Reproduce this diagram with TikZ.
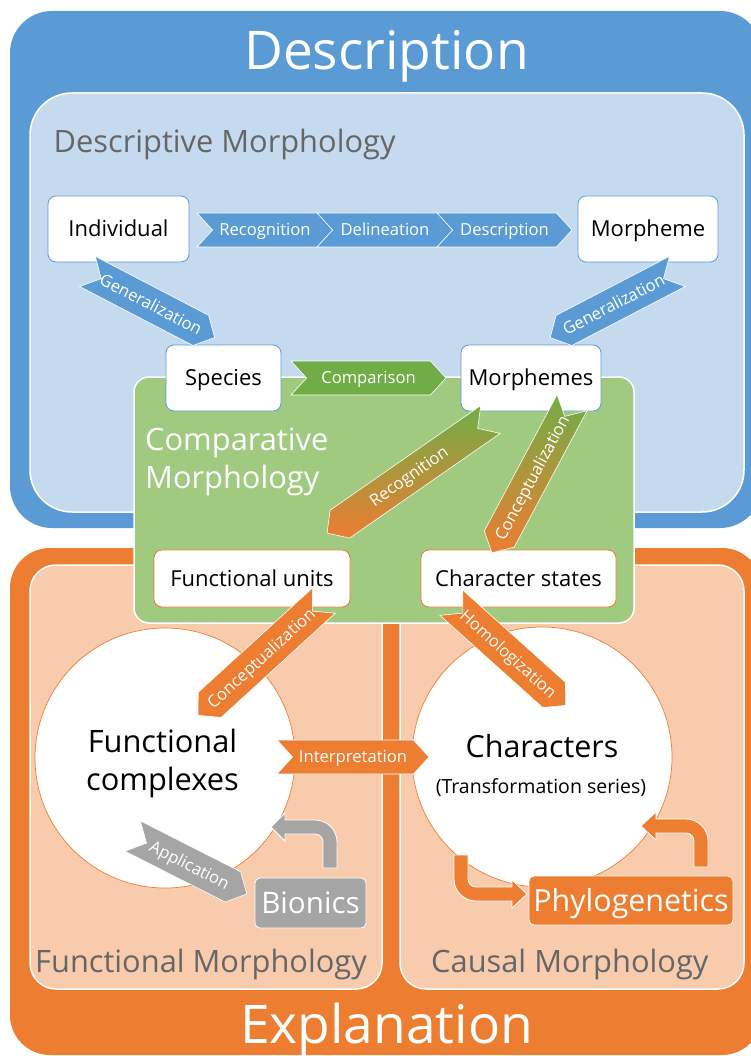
\documentclass[tikz,border=0pt]{standalone}
\usepackage{fontspec}
\setmainfont{Open Sans}
\usetikzlibrary{shapes.symbols}
\definecolor{cblue}{HTML}{5B9BD5}
\definecolor{clblue}{HTML}{C5DAEE}
\definecolor{corange}{HTML}{ED7D31}
\definecolor{clorange}{HTML}{F8CBAD}
\definecolor{cgreen}{HTML}{70AD47}
\definecolor{clgreen}{HTML}{A0CA7F}
\definecolor{cgray}{HTML}{A5A5A5}
\definecolor{ctxt}{HTML}{666666}
\newcommand{\myfs}[1]{\fontsize{#1}{#1}\selectfont}
\begin{document}
\begin{tikzpicture}[x=1pt,y=-1pt,
  chev/.style={signal, signal pointer angle=95, draw=white, line width=0.6pt,
    inner sep=0pt, minimum height=34pt, text=white, font=\myfs{16.6},
    text height=11.8pt, text depth=0pt},
  chevr/.style={chev, signal from=west, signal to=east},
  chevl/.style={chev, signal from=east, signal to=west},
  wbox/.style={draw=cblue, line width=0.8pt, fill=white, rounded corners=8pt,
    font=\myfs{22}, text height=15.7pt, text depth=0pt, inner sep=0pt},
  obox/.style={wbox, draw=corange},
  panel/.style={draw=white, line width=1.5pt},
  bent/.style={draw=white, line width=0.8pt},
  lbl/.style={inner sep=0pt, font=\myfs{30.8}},
  big/.style={inner sep=0pt, font=\myfs{53.3}, text=white},
  circ/.style={circle, fill=white, draw=corange, line width=0.7pt, minimum size=260pt, inner sep=0pt}
]
\useasboundingbox (0,0) rectangle (751,1056);
\clip (0,0) rectangle (751,1056);

% outer frames
\fill[cblue, rounded corners=42pt] (10,11) rectangle (762,528);
\draw[panel, fill=clblue, rounded corners=42pt] (30,93) rectangle (744,512);
\fill[corange, rounded corners=40pt] (10,548) rectangle (762,1055);
\draw[panel, fill=clorange, rounded corners=26pt] (30,565) rectangle (382,989);
\draw[panel, fill=clorange, rounded corners=26pt] (400,565) rectangle (744,989);

% big titles
\node[big, anchor=base] (tdesc) at (386.5,70) {Description};
\node[big, anchor=base] (texpl) at (386.5,1043) {Explanation};
\node[lbl, text=ctxt, anchor=base west] (tdm) at (53.5,153) {Descriptive Morphology};
\node[lbl, text=ctxt, anchor=base west] (tfm) at (35,972) {Functional Morphology};
\node[lbl, text=ctxt, anchor=base west] (tcm) at (431,972) {Causal Morphology};

% circles
\node[circ] (fc) at (165,758) {};
\node[circ] (ch) at (542,757) {};
\node[lbl, anchor=base] (fc1) at (162.5,752) {Functional};
\node[lbl, anchor=base] (fc2) at (162.5,790) {complexes};
\node[lbl, anchor=base, font=\myfs{30.4}] (ch1) at (542,757) {Characters};
\node[inner sep=0pt, font=\myfs{19.5}, anchor=base] (ch2) at (541,793) {(Transformation series)};

% comparative box
\draw[panel, fill=clgreen, rounded corners=15pt] (134,377) rectangle (634,623);
\node[lbl, text=white, anchor=base west] (tcp1) at (145,450) {Comparative};
\node[lbl, text=white, anchor=base west] (tcp2) at (145,488) {Morphology};

% boxes
\node[wbox, minimum width=141pt, minimum height=66pt] (ind) at (118.5,229) {Individual};
\node[wbox, minimum width=140pt, minimum height=66pt] (mor) at (648,229) {Morpheme};
\node[wbox, minimum width=115pt, minimum height=66pt] (spe) at (223.5,378) {Species};
\node[wbox, minimum width=140pt, minimum height=66pt] (mos) at (531,378) {Morphemes};
\node[obox, minimum width=196pt, minimum height=57pt] (fu) at (252,578.5) {Functional units};
\node[obox, minimum width=195pt, minimum height=57pt] (cs) at (518.5,578.5) {Character states};
\node[fill=cgray, draw=white, line width=0.8pt, rounded corners=5pt, inner sep=0pt,
  minimum width=111pt, minimum height=50pt, text=white, font=\myfs{29.6},
  text height=21.1pt, text depth=0pt] (bio) at (310.5,903) {Bionics};
\node[fill=corange, draw=white, line width=0.8pt, rounded corners=5pt, inner sep=0pt,
  minimum width=204pt, minimum height=49pt, text=white, font=\myfs{30.4},
  text height=21.7pt, text depth=0pt] (phy) at (631,900.5) {Phylogenetics};

% chevrons: description row
\node[chevr, fill=cblue, minimum width=136pt] (c1) at (265,230) {Recognition};
\node[chevr, fill=cblue, minimum width=136pt] (c2) at (385,230) {Delineation};
\node[chevr, fill=cblue, minimum width=135pt] (c3) at (504.5,230) {Description};
\node[chevr, fill=cblue, minimum width=133pt, rotate=-27.5] (g1) at (151,304.5) {Generalization};
\node[chevl, fill=cblue, minimum width=133pt, rotate=27.5] (g2) at (613.75,304.5) {Generalization};
\node[chevr, fill=cgreen, minimum width=155pt] (cmp) at (368.5,378) {Comparison};
\node[chevl, top color=cgreen, bottom color=corange, minimum width=199pt, rotate=34.8] (rec) at (408.75,476.25) {Recognition};
\node[chevl, top color=cgreen, bottom color=corange, minimum width=157pt, rotate=61.9] (con) at (532,477.75) {Conceptualization};
\node[chevl, fill=corange, minimum width=157pt, rotate=42.4] (con2) at (261,658) {Conceptualization};
\node[chevr, fill=corange, minimum width=144pt, rotate=-41.9] (hom) at (508.5,654) {Homologization};
\node[chevr, fill=corange, minimum width=152pt] (int) at (353,757) {Interpretation};
\node[chevr, fill=cgray, minimum width=128pt, rotate=-26.9] (app) at (189.75,865) {Application};

% bent arrows
\draw[bent, fill=cgray] (323,868) -- (323,842) .. controls (323,837.58) and (319.42,834) .. (315,834)
  -- (285,834) -- (285,841) -- (271,827) -- (285,813) -- (285,820) -- (315,820)
  .. controls (327.15,820) and (337,829.85) .. (337,842) -- (337,868) -- cycle;
\draw[bent, fill=corange] (468,855) -- (468,879) .. controls (468,883.42) and (471.58,887) .. (476,887)
  -- (512,887) -- (512,880) -- (527,894) -- (512,908) -- (512,901) -- (476,901)
  .. controls (463.85,901) and (454,891.15) .. (454,879) -- (454,855) -- cycle;
\draw[bent, fill=corange] (694,867) -- (694,841) .. controls (694,836.58) and (690.42,833) .. (686,833)
  -- (656,833) -- (656,840) -- (641,826) -- (656,812) -- (656,819) -- (686,819)
  .. controls (698.15,819) and (708,828.85) .. (708,841) -- (708,867) -- cycle;
\end{tikzpicture}
\end{document}
